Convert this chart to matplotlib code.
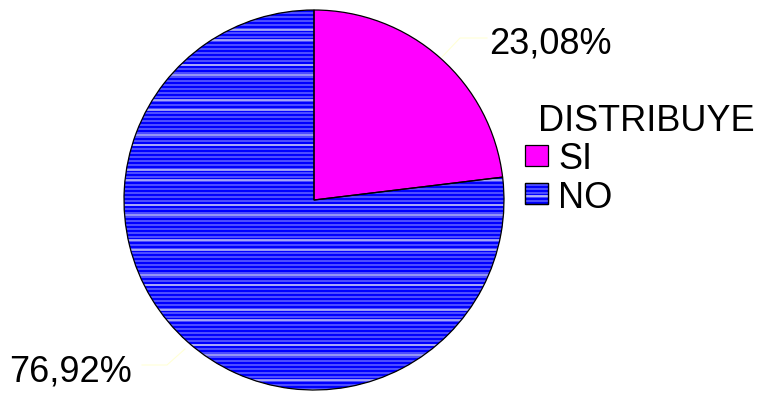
import matplotlib
matplotlib.use("Agg")
import matplotlib.pyplot as plt
from matplotlib.patches import Rectangle
import numpy as np

# Data
categories = ["SI", "NO"]
percentages = [23.08, 76.92]
value_labels = ["23,08%", "76,92%"]
legend_title = "DISTRIBUYE"

# Styling
slice_colors = ["#FF00FF", "#0000FF"]
stripe_color = "#4D4DFF"
pale_color = "#C4C4F4"
leader_color = "#FFFFD6"
plt.rcParams["font.family"] = ["Liberation Sans", "DejaVu Sans"]
FS = 26

W, H = 760, 394
fig = plt.figure(figsize=(W / 100, H / 100), dpi=100)

# pie geometry in pixels
cx, cy, r = 314, 200, 190
ax = fig.add_axes([(cx - r) / W, (H - cy - r) / H, 2 * r / W, 2 * r / H])

wedges, _ = ax.pie(percentages, colors=slice_colors, startangle=90,
                   counterclock=False, radius=1,
                   wedgeprops=dict(edgecolor="none", linewidth=0))
ax.set_xlim(-1, 1)
ax.set_ylim(-1, 1)
ax.axis("off")

# horizontal stripe texture on the NO slice
px = 1.0 / r
ys = np.arange(-1, 1, 4 * px) + 1.5 * px
lc = ax.hlines(ys, -1, 1, colors=stripe_color, linewidth=2 * 0.72, zorder=2)
lc.set_clip_path(wedges[1])
pale_pix = np.concatenate([np.arange(30, 395, 35), np.arange(40, 395, 35)])
lc2 = ax.hlines((cy - pale_pix) / r, -1, 1, colors=pale_color,
                linewidth=1.5 * 0.72, zorder=2.1)
lc2.set_clip_path(wedges[1])

# outline on top
ax.pie(percentages, colors=["none", "none"], startangle=90,
       counterclock=False, radius=1,
       wedgeprops=dict(edgecolor="black", linewidth=0.9, facecolor="none",
                       zorder=3))
ax.set_xlim(-1, 1)
ax.set_ylim(-1, 1)
ax.axis("off")


def to_data(x, y):
    return (x - cx) / r, (cy - y) / r


# value labels with leader lines
label_pix = [(550, 44), (70, 372)]
leaders = [[(442, 57), (460, 38), (487, 38)],
           [(185, 349), (167, 365), (142, 365)]]
for txt, (lx, ly), pts in zip(value_labels, label_pix, leaders):
    dx, dy = to_data(lx, ly)
    ax.text(dx, dy, txt, fontsize=FS, ha="center", va="center",
            clip_on=False, zorder=4)
    xs, ys_ = zip(*[to_data(*p) for p in pts])
    ax.plot(xs, ys_, color=leader_color, linewidth=0.8, clip_on=False,
            zorder=1)

# legend drawn in pixel coordinates
lg = fig.add_axes([0, 0, 1, 1])
lg.set_xlim(0, W)
lg.set_ylim(H, 0)
lg.axis("off")
lg.text(538, 131, legend_title, fontsize=FS, ha="left", va="baseline")
box_y = [145, 183]
text_base = [169, 208]
for i, (cat, col) in enumerate(zip(categories, slice_colors)):
    rect = Rectangle((525, box_y[i]), 23, 21, facecolor=col,
                     edgecolor="black", linewidth=0.9, zorder=2)
    lg.add_patch(rect)
    if i == 1:
        sy = np.arange(box_y[i] + 2, box_y[i] + 21, 4)
        l3 = lg.hlines(sy, 525, 548, colors=stripe_color, linewidth=1.44,
                       zorder=2.5)
        l3.set_clip_path(rect)
        l4 = lg.hlines([box_y[i] + 13], 525, 548, colors=pale_color,
                       linewidth=1.2, zorder=2.6)
        l4.set_clip_path(rect)
        lg.add_patch(Rectangle((525, box_y[i]), 23, 21, facecolor="none",
                               edgecolor="black", linewidth=0.9, zorder=3))
    lg.text(558, text_base[i], cat, fontsize=FS, ha="left", va="baseline")

fig.savefig("out.png", dpi=100)
